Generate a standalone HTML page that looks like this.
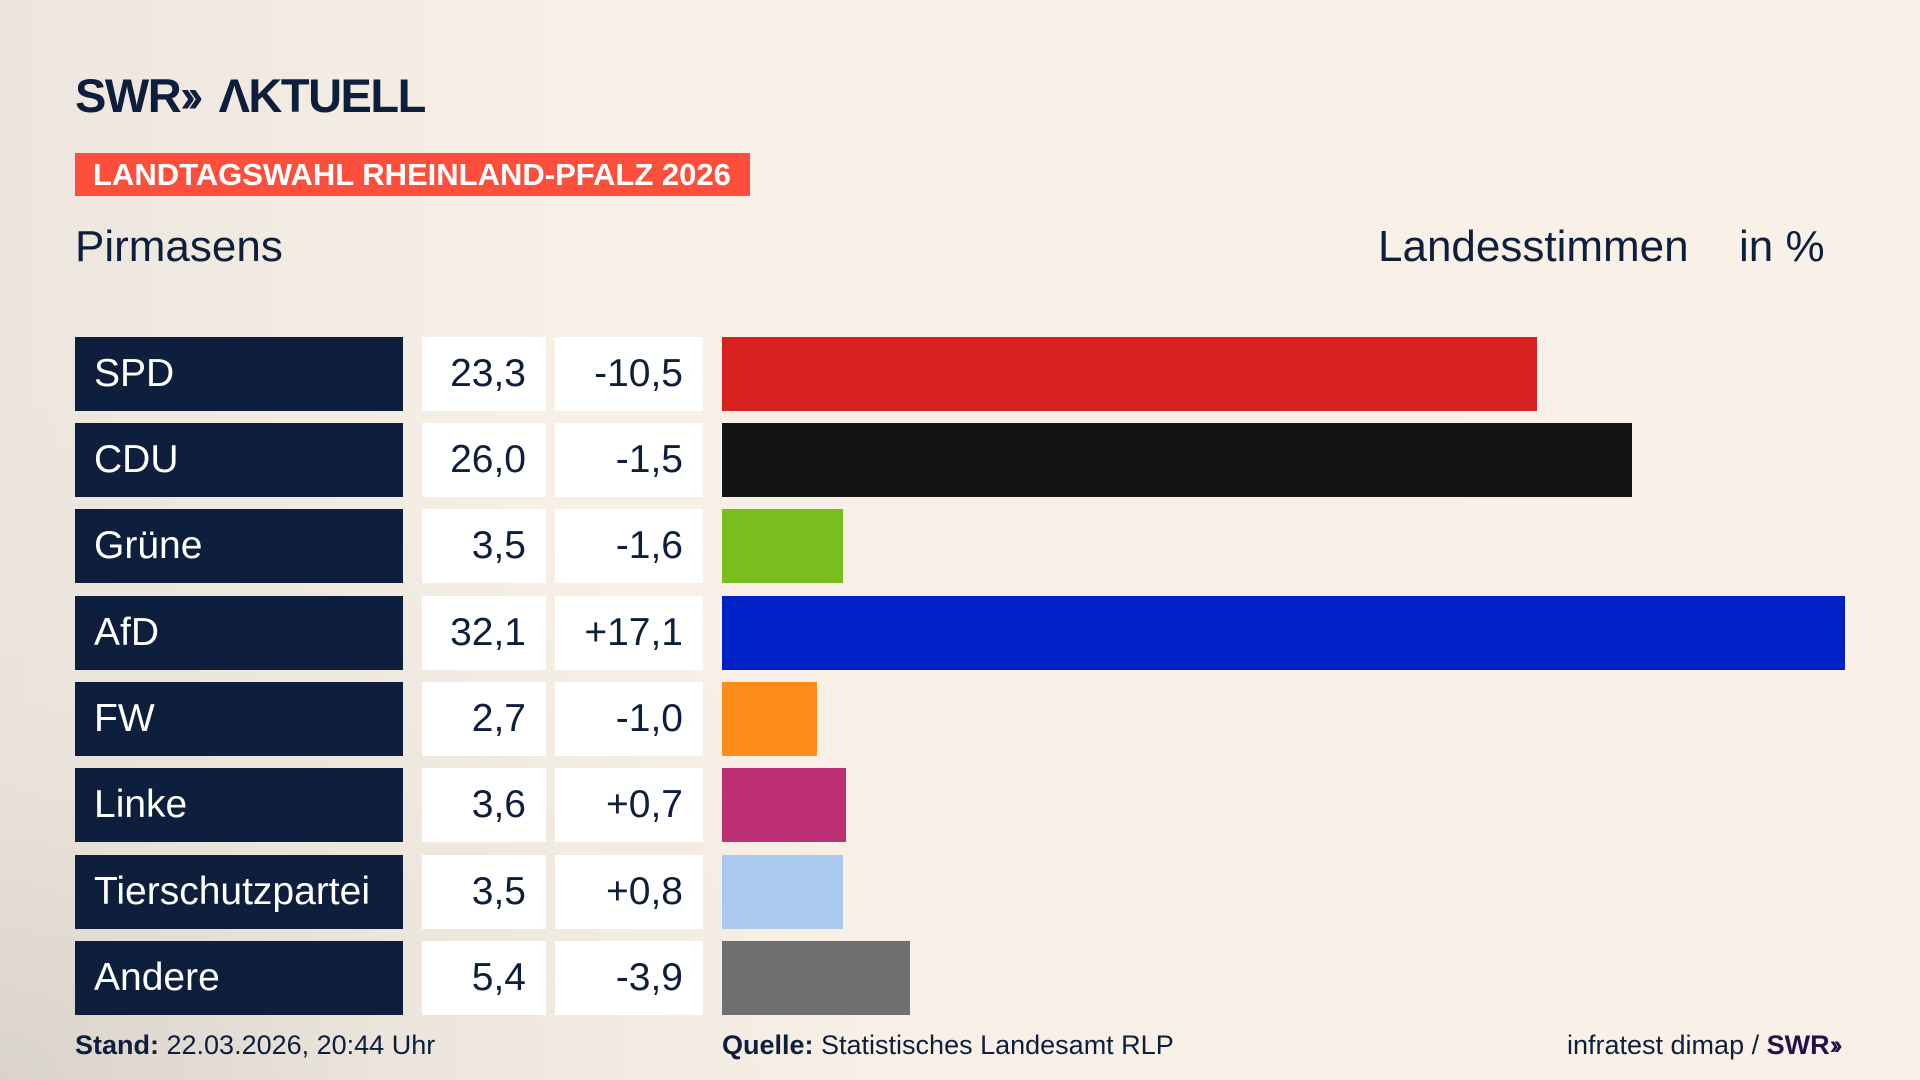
<!DOCTYPE html>
<html><head><meta charset="utf-8"><style>
*{margin:0;padding:0;box-sizing:border-box}
body{width:1920px;height:1080px;overflow:hidden;position:relative;font-family:"Liberation Sans","DejaVu Sans",sans-serif;color:#0d1f3c;
background:radial-gradient(ellipse 900px 700px at 0px 1080px,#d9d3cc 0%,rgba(230,224,216,0.6) 45%,rgba(248,240,230,0) 100%),linear-gradient(90deg,#ece6de 0%,#f8f0e6 30%,#f9f1e7 100%);}
.a{position:absolute;white-space:nowrap}
.logo{left:75px;top:68px;font-size:47px;font-weight:bold;letter-spacing:-1.5px;color:#0d1f3c}
.banner{left:75px;top:153px;width:675px;height:43px;background:#fe4f3d;color:#fff;font-weight:bold;font-size:31px;line-height:43px;padding-left:18px}
.h{top:222px;font-size:44px}
.row{position:absolute;left:0;height:74px;width:1920px}
.n{position:absolute;left:75px;width:328px;height:74px;background:#0d1f3c;color:#fff;font-size:39px;line-height:74px;padding-left:19px}
.v{position:absolute;left:422px;width:124px;height:74px;background:#fff;font-size:39px;line-height:74px;text-align:right;padding-right:20px}
.d{position:absolute;left:555px;width:148px;height:74px;background:#fff;font-size:39px;line-height:74px;text-align:right;padding-right:20px}
.b{position:absolute;left:722px;height:74px}
.f{top:1030px;font-size:27px}
</style></head><body>
<div class="a logo">SWR<span style="letter-spacing:-8px">››</span>&nbsp; ΛKTUELL</div>
<div class="a banner">LANDTAGSWAHL RHEINLAND-PFALZ 2026</div>
<div class="a h" style="left:75px">Pirmasens</div>
<div class="a h" style="left:1378px">Landesstimmen</div>
<div class="a h" style="left:1739px">in %</div>

<div class="row" style="top:337px"><div class="n">SPD</div><div class="v">23,3</div><div class="d">-10,5</div><div class="b" style="width:815px;background:#d82121"></div></div>
<div class="row" style="top:423px"><div class="n">CDU</div><div class="v">26,0</div><div class="d">-1,5</div><div class="b" style="width:910px;background:#141414"></div></div>
<div class="row" style="top:509px"><div class="n">Grüne</div><div class="v">3,5</div><div class="d">-1,6</div><div class="b" style="width:121px;background:#79bd1e"></div></div>
<div class="row" style="top:596px"><div class="n">AfD</div><div class="v">32,1</div><div class="d">+17,1</div><div class="b" style="width:1123px;background:#0020c8"></div></div>
<div class="row" style="top:682px"><div class="n">FW</div><div class="v">2,7</div><div class="d">-1,0</div><div class="b" style="width:95px;background:#fe8c1a"></div></div>
<div class="row" style="top:768px"><div class="n">Linke</div><div class="v">3,6</div><div class="d">+0,7</div><div class="b" style="width:124px;background:#bd3075"></div></div>
<div class="row" style="top:855px"><div class="n">Tierschutzpartei</div><div class="v">3,5</div><div class="d">+0,8</div><div class="b" style="width:121px;background:#abc8ef"></div></div>
<div class="row" style="top:941px"><div class="n">Andere</div><div class="v">5,4</div><div class="d">-3,9</div><div class="b" style="width:188px;background:#6e6f71"></div></div>

<div class="a f" style="left:75px"><b>Stand:</b> 22.03.2026, 20:44 Uhr</div>
<div class="a f" style="left:722px"><b>Quelle:</b> Statistisches Landesamt RLP</div>
<div class="a f" style="left:1567px">infratest dimap / <b style="color:#24104a">SWR<span style="letter-spacing:-5px">››</span></b></div>
</body></html>
